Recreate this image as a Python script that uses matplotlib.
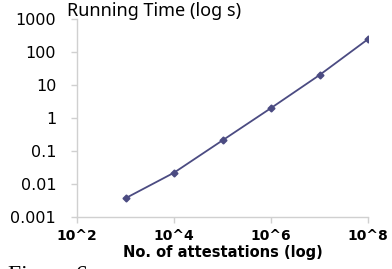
import matplotlib
matplotlib.use("Agg")
import matplotlib.pyplot as plt
from matplotlib.ticker import FixedLocator, NullLocator

attestations = [1e3, 1e4, 1e5, 1e6, 1e7, 1e8]
running_time = [0.0037, 0.022, 0.21, 2.0, 20.0, 245.0]
xticks = [1e2, 1e4, 1e6, 1e8]
xtick_labels = ["10^2", "10^4", "10^6", "10^8"]
yticks = [0.001, 0.01, 0.1, 1, 10, 100, 1000]
ytick_labels = ["0.001", "0.01", "0.1", "1", "10", "100", "1000"]

fig = plt.figure(figsize=(3.92, 2.69), dpi=100)
ax = fig.add_axes([77/392, 1-217/269, (368-77)/392, (217-19)/269])

color = "#4b4b82"
ax.plot(attestations, running_time, color=color, lw=1.3, marker="D", ms=3.5,
        markerfacecolor=color, markeredgecolor=color)
ax.set_xscale("log")
ax.set_yscale("log")
ax.set_xlim(1e2, 1e8)
ax.set_ylim(1e-3, 1e3)
ax.xaxis.set_major_locator(FixedLocator(xticks))
ax.xaxis.set_minor_locator(NullLocator())
ax.yaxis.set_major_locator(FixedLocator(yticks))
ax.yaxis.set_minor_locator(NullLocator())
ax.set_xticklabels(xtick_labels, fontsize=10, fontweight="bold", family="DejaVu Sans")
ax.set_yticklabels(ytick_labels, fontsize=11.5, family="DejaVu Sans")
for s in ["top", "right"]:
    ax.spines[s].set_visible(False)
for s in ["left", "bottom"]:
    ax.spines[s].set_color("#d0d0d0")
    ax.spines[s].set_linewidth(1.0)
ax.tick_params(axis="both", colors="#d0d0d0", labelcolor="black", length=4, width=1)
ax.tick_params(axis="y", pad=11)
ax.tick_params(axis="x", pad=5)

ax.set_xlabel("No. of attestations (log)", fontsize=10.5, fontweight="bold",
              family="DejaVu Sans", labelpad=1)
fig.text(67/392, 1-2/269, "Running Time (log s)", fontsize=13, family="Noto Sans",
         ha="left", va="top")
fig.text(8/392, 1-265/269, "Figure 6.", fontsize=17, family="Liberation Serif",
         ha="left", va="top")

fig.savefig("out.png", dpi=100)
